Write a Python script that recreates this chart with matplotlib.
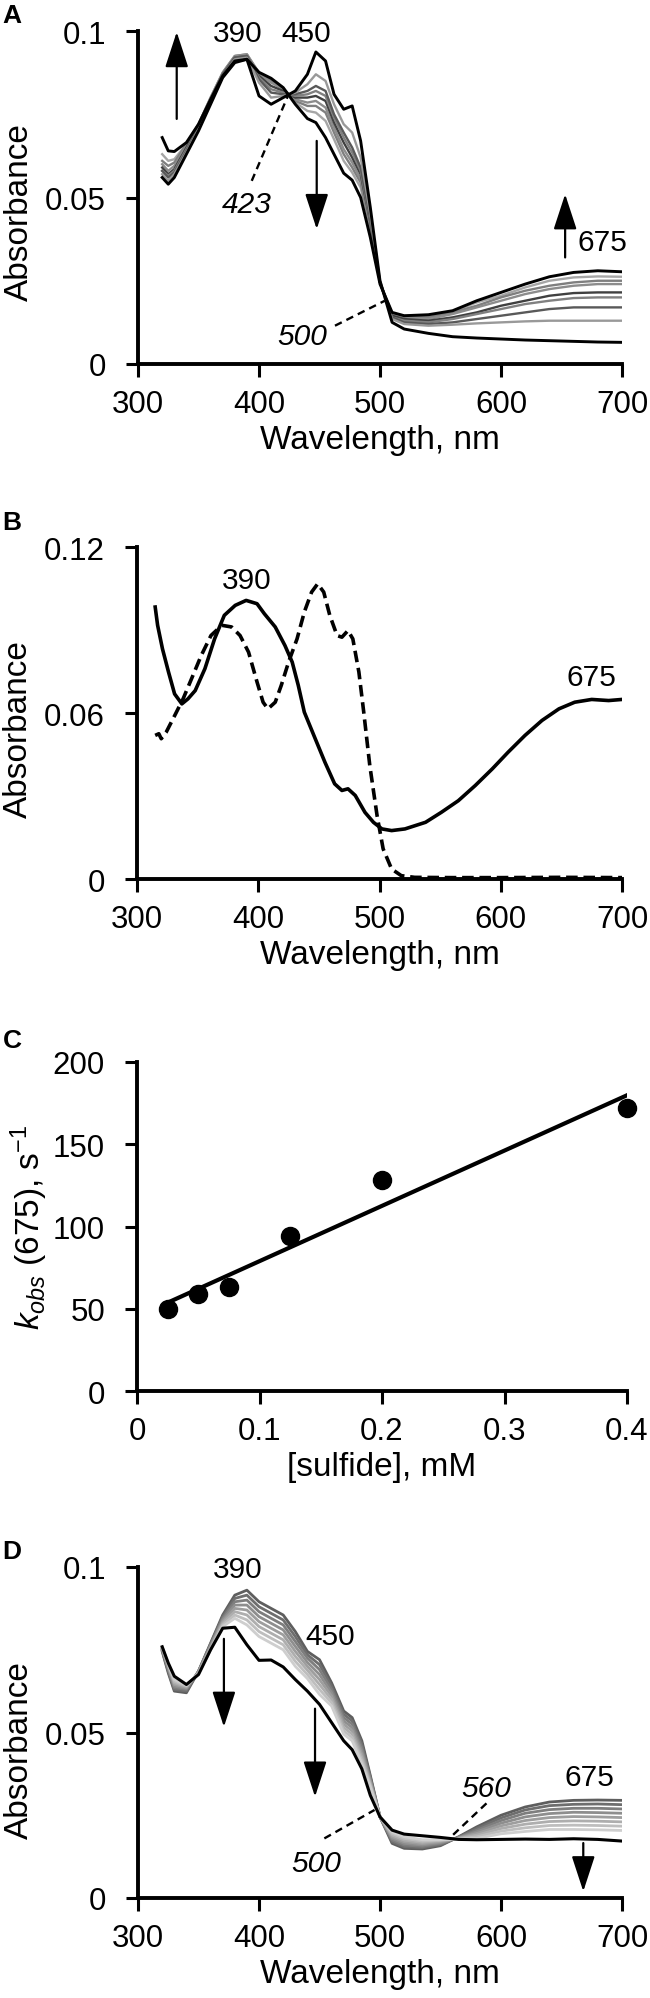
import numpy as np
import matplotlib
matplotlib.use('Agg')
import matplotlib.pyplot as plt

plt.rcParams['font.family'] = 'Liberation Sans'
plt.rcParams['mathtext.fontset'] = 'custom'
plt.rcParams['mathtext.rm'] = 'Liberation Sans'
plt.rcParams['mathtext.it'] = 'Liberation Sans:italic'

# ---- panel A : spectra, absorbance in mAU ----
wl_a = [320, 325, 330, 340, 350, 360, 370, 380, 390, 400, 410, 420, 430, 440, 447, 455, 462,
        470, 477, 484, 492, 500, 510, 520, 540, 560, 580, 600, 620, 640, 660, 680, 700]
a_init = [56, 54, 56, 63, 70, 78, 86, 90.5, 91.5, 80.5, 78, 80, 82, 87, 93.7, 91, 81,
          76.5, 77.5, 67, 47, 25, 12.5, 10.5, 9.2, 8.2, 7.8, 7.5, 7.2, 7.0, 6.8, 6.6, 6.5]
a_g7 = [57, 55, 57, 63.5, 70.5, 78.5, 86.5, 91.5, 92, 84.5, 80, 80.5, 81.5, 84, 87, 85, 78,
        72, 69.5, 62, 45, 25, 13.5, 12, 11.5, 11.8, 12.2, 12.5, 12.8, 13, 13, 13, 13]
a_g6 = [58, 56, 57.5, 64, 71, 79, 87, 92, 92.5, 85.5, 81.5, 81, 81, 82, 83.5, 82, 75,
        69.5, 65, 59, 43.5, 24.5, 14, 12.5, 12, 12.5, 13.5, 14.5, 15.5, 16.5, 17, 17, 17]
a_g5 = [58, 56.5, 58, 64.5, 71, 79, 87, 92, 92.5, 86, 82.5, 81.5, 80.5, 81, 82, 80.5, 74,
        68, 63.5, 58, 43, 24.5, 14, 13, 12.5, 13.5, 15, 16.5, 18, 19, 19.8, 20, 20]
a_g4 = [59, 57, 58.5, 65, 71.5, 79.5, 87, 92, 92.5, 86.5, 83.5, 82, 80, 80, 80.5, 79, 72.5,
        66.5, 62, 57, 42.5, 24.5, 14.5, 13.5, 13, 14, 15.5, 17.5, 19, 20.5, 21.3, 21.5, 21.5]
a_g3 = [60, 58, 59.5, 65.5, 72, 80, 87.5, 92.5, 93, 87, 84.5, 82.5, 79.5, 78.5, 79, 77, 71,
        64.5, 60.5, 55.5, 41.5, 24.5, 14.8, 14, 13.5, 15, 17, 19, 21, 22.5, 23.5, 24, 24]
a_g2 = [61, 59.5, 60.5, 66, 72, 80, 87.5, 92.5, 93, 87.5, 85, 82.5, 79, 77.5, 77.5, 75.5, 69.5,
        63, 59, 54.5, 41, 24.5, 15, 14.2, 14, 15.5, 17.5, 20, 22, 23.5, 24.5, 25, 25]
a_g1 = [63, 61, 61.5, 66, 72, 79.8, 87, 92, 92.5, 87.5, 85.5, 83, 78.5, 76, 75.5, 73, 67.5,
        61, 57.5, 53, 40, 24.5, 15.2, 14.5, 14.5, 15.8, 18.5, 20.5, 23, 25, 26, 26.3, 26.2]
a_final = [68, 64, 63.8, 66.5, 72, 79.4, 86.5, 91, 91.5, 87.6, 85.8, 83, 78, 73.7, 72.5, 68, 63,
           57.3, 55.2, 50, 38, 24, 15.5, 14.5, 14.8, 16, 19, 21.5, 24, 26.2, 27.5, 28, 27.7]
a_grays = [a_g1, a_g2, a_g3, a_g4, a_g5, a_g6, a_g7]
a_gray_colors = ['#a6a6a6', '#7f7f7f', '#8c8c8c', '#404040', '#808080', '#595959', '#999999']

# ---- panel B ----
wl_b_solid = [315, 317, 321, 326, 331, 337, 342, 348, 356, 364, 372, 381, 390, 399, 405, 414, 422,
              428, 433, 438, 447, 455, 463, 469, 474, 480, 488, 495, 502, 510, 521, 538, 551,
              565, 579, 593, 606, 620, 634, 648, 661, 675, 689, 700]
b_solid = [0.0983, 0.0917, 0.0832, 0.0748, 0.0669, 0.0633, 0.0651, 0.0681, 0.0760, 0.0868,
           0.0953, 0.0989, 0.1007, 0.0995, 0.0959, 0.0911, 0.0844, 0.0784, 0.0700, 0.0603,
           0.0507, 0.0422, 0.0344, 0.0320, 0.0326, 0.0302, 0.0241, 0.0205, 0.0181, 0.0175,
           0.0181, 0.0205, 0.0241, 0.0283, 0.0338, 0.0398, 0.0458, 0.0519, 0.0573, 0.0615,
           0.0639, 0.0649, 0.0645, 0.0649]
wl_b_dash = [315, 318, 320, 324, 331, 338, 345, 353, 361, 370, 378, 385, 392, 399, 404, 408, 414,
             419, 425, 432, 438, 444, 449, 454, 459, 465, 469, 474, 478, 483, 487, 492, 498,
             503, 510, 518, 529, 560, 600, 650, 700]
b_dash = [0.0519, 0.0525, 0.0507, 0.0530, 0.0590, 0.0651, 0.0724, 0.0808, 0.0880, 0.0917,
          0.0911, 0.0880, 0.0820, 0.0712, 0.0639, 0.0615, 0.0639, 0.0700, 0.0784, 0.0868,
          0.0965, 0.1037, 0.1067, 0.1037, 0.0953, 0.0880, 0.0874, 0.0898, 0.0868, 0.0748,
          0.0603, 0.0410, 0.0229, 0.0109, 0.0036, 0.0012, 0.0006, 0.0005, 0.0005, 0.0006, 0.0005]

# ---- panel C ----
sulfide = [0.025, 0.05, 0.075, 0.125, 0.2, 0.4]
kobs = [50, 59, 63, 94, 128, 172]

# ---- panel D : spectra, mAU ----
wl_d = [320, 325, 330, 340, 350, 360, 370, 380, 390, 400, 410, 420, 430, 440, 450, 460, 470,
        477, 485, 492, 500, 510, 520, 535, 550, 565, 580, 600, 620, 640, 660, 680, 700]
d_g0 = [74.5, 68, 62.5, 62, 68.5, 77, 85.5, 91.5, 93, 89.5, 87.5, 85.5, 80.5, 74.5, 72, 65, 56.5,
        54.5, 47.5, 37, 24.5, 16.5, 15, 14.8, 15.8, 18.5, 21.5, 25, 27.5, 29, 29.5, 29.6, 29.5]
d_g1 = [74.8, 68.5, 63, 62.5, 68.5, 76.8, 85, 90.5, 91.5, 88, 86, 84, 79, 73.5, 70.5, 64, 55.5,
        53.5, 46.5, 36.5, 24.5, 17, 15.5, 15.2, 16.1, 18.4, 21, 24.2, 26.6, 27.9, 28.3, 28.4, 28.2]
d_g2 = [75, 69, 63.5, 63, 68.5, 76.5, 84.5, 89.5, 90, 86.5, 84.5, 82.5, 77.5, 72.5, 69, 63, 54.5,
        52.5, 45.5, 36, 24.5, 17.5, 16, 15.6, 16.4, 18.3, 20.5, 23.4, 25.6, 26.7, 27.1, 27.1, 26.9]
d_g3 = [75.2, 69.5, 64, 63.3, 68.3, 76.2, 84, 88.5, 88.5, 85, 83, 81, 76, 71.2, 67.5, 62, 53.5,
        51.5, 44.5, 35.5, 24.5, 18, 16.5, 16, 16.7, 18.2, 20, 22.6, 24.5, 25.5, 25.9, 25.8, 25.6]
d_g4 = [75.4, 70, 64.5, 63.6, 68.2, 75.8, 83.5, 87.5, 87, 83.5, 81.5, 79.5, 74.5, 70, 66, 61, 52.5,
        50.5, 43.5, 35, 24.5, 18.5, 17, 16.4, 17, 18.1, 19.5, 21.8, 23.4, 24.3, 24.6, 24.5, 24.3]
d_g5 = [75.6, 70.3, 65, 63.9, 68, 75.5, 83, 86.5, 85.5, 82, 80, 78, 73, 68.8, 64.5, 60, 51.5,
        49.5, 42.5, 34.5, 24.5, 19, 17.5, 16.8, 17.3, 18, 19, 21, 22.3, 23.1, 23.3, 23.2, 23]
d_g6 = [75.7, 70.5, 65.5, 64.1, 67.8, 75.2, 82.5, 85.5, 84, 80.5, 78.5, 76.5, 71.5, 67.5, 63, 59, 50.5,
        48.5, 41.5, 34, 24.5, 19.5, 18, 17.2, 17.5, 17.9, 18.5, 20.2, 21.2, 21.9, 22, 21.9, 21.7]
d_g7 = [75.8, 70.8, 66, 64.3, 67.7, 75, 82, 84.5, 82.5, 79, 77, 75, 70, 66.3, 61.5, 58, 49.5,
        47.5, 40.5, 33.5, 24.5, 20, 18.5, 17.6, 17.6, 17.8, 18, 19.4, 20.1, 20.7, 20.7, 20.6, 20.4]
d_final = [75.9, 71, 67, 64.5, 67.5, 75, 81.5, 81.8, 76.5, 71.8, 71.9, 69.8, 66, 62.5, 58.5, 53, 47.5,
           44.8, 39, 31, 24.5, 20.5, 19.3, 18.8, 18.3, 17.7, 17.6, 17.7, 17.8, 17.7, 17.9, 17.7, 17.2]
d_grays = [d_g0, d_g1, d_g2, d_g3, d_g4, d_g5, d_g6, d_g7]
d_gray_colors = ['#5e5e5e', '#6e6e6e', '#7e7e7e', '#8e8e8e', '#9e9e9e', '#aeaeae', '#bebebe', '#cecece']

wl_ticks = [300, 400, 500, 600, 700]

W, H = 650, 1999
fig = plt.figure(figsize=(W / 100, H / 100), dpi=100)


def add_ax(left, right, top, bottom):
    return fig.add_axes([left / W, 1 - bottom / H, (right - left) / W, (bottom - top) / H])


def style(ax, h):
    for s in ['top', 'right']:
        ax.spines[s].set_visible(False)
    for s in ['left', 'bottom']:
        ax.spines[s].set_linewidth(2.8)
    ax.tick_params(direction='out', length=9, width=2.2, labelsize=22.5)
    ax.tick_params(axis='y', pad=14)
    ax.tick_params(axis='x', pad=9)
    ax.xaxis.set_label_coords(0.5, -60 / h)
    ax.xaxis.label.set_fontsize(24)
    ax.yaxis.label.set_fontsize(24)


def arrow(ax, x, y0, y1):
    ax.annotate('', xy=(x, y1), xytext=(x, y0),
                arrowprops=dict(arrowstyle='-|>,head_length=1.1,head_width=0.36', lw=1.6,
                                color='k', shrinkA=0, shrinkB=0, mutation_scale=20))


def dashed(ax, p0, p1):
    ax.plot([p0[0], p1[0]], [p0[1], p1[1]], color='k', lw=1.7, ls=(0, (3.2, 2.2)))


def spectra_ax(ax, h):
    ax.set_xlim(300, 700)
    ax.set_xticks(wl_ticks)
    ax.set_xticklabels([str(t) for t in wl_ticks])
    ax.set_xlabel('Wavelength, nm')
    ax.set_ylabel('Absorbance')
    style(ax, h)


# ----- A -----
axA = add_ax(138, 622, 32, 365)
for vals, c in zip(a_grays, a_gray_colors):
    axA.plot(wl_a, np.array(vals) / 1000, color=c, lw=1.7)
axA.plot(wl_a, np.array(a_init) / 1000, color='k', lw=2.1)
axA.plot(wl_a, np.array(a_final) / 1000, color='k', lw=2.1)
axA.set_ylim(0, 0.1)
axA.set_yticks([0, 0.05, 0.1])
axA.set_yticklabels(['0', '0.05', '0.1'])
spectra_ax(axA, 333)
axA.yaxis.set_label_coords(-0.213, 0.46)
axA.text(382.6, 0.0993, '390', fontsize=21.5, ha='center', va='center')
axA.text(438.8, 0.0993, '450', fontsize=21.5, ha='center', va='center')
axA.text(684, 0.0366, '675', fontsize=21.5, ha='center', va='center')
axA.text(389.8, 0.048, '423', fontsize=21.5, ha='center', va='center', style='italic')
axA.text(436, 0.0085, '500', fontsize=21.5, ha='center', va='center', style='italic')
dashed(axA, (394, 0.055), (424, 0.0806))
dashed(axA, (462.8, 0.0115), (504, 0.019))
arrow(axA, 332, 0.0736, 0.0997)
arrow(axA, 447.7, 0.067, 0.0405)
arrow(axA, 653, 0.032, 0.051)

# ----- B -----
axB = add_ax(137, 622, 548, 880)
axB.plot(wl_b_solid, b_solid, color='k', lw=2.6)
axB.plot(wl_b_dash, b_dash, color='k', lw=2.6, ls=(0, (3.2, 1.6)))
axB.set_ylim(0, 0.12)
axB.set_yticks([0, 0.06, 0.12])
axB.set_yticklabels(['0', '0.06', '0.12'])
spectra_ax(axB, 332)
axB.yaxis.set_label_coords(-0.213, 0.455)
axB.text(390.4, 0.108, '390', fontsize=21.5, ha='center', va='center')
axB.text(675, 0.073, '675', fontsize=21.5, ha='center', va='center')

# ----- C -----
axC = add_ax(137, 627, 1063, 1392)
slope, icpt = np.polyfit(sulfide, kobs, 1)
xfit = np.array([sulfide[0], sulfide[-1]])
axC.plot(xfit, slope * xfit + icpt, color='k', lw=3.0)
axC.plot(sulfide, kobs, 'o', color='k', ms=13, clip_on=False)
axC.set_xlim(0, 0.4)
axC.set_ylim(0, 200)
axC.set_xticks([0, 0.1, 0.2, 0.3, 0.4])
axC.set_xticklabels(['0', '0.1', '0.2', '0.3', '0.4'])
axC.set_yticks([0, 50, 100, 150, 200])
axC.set_yticklabels(['0', '50', '100', '150', '200'])
axC.set_xlabel('[sulfide], mM')
axC.set_ylabel(r'$k_{obs}$ (675), s$^{\mathrm{-1}}$')
style(axC, 329)
axC.yaxis.set_label_coords(-0.178, 0.5)

# ----- D -----
axD = add_ax(138, 622, 1568, 1899)
for vals, c in zip(d_grays, d_gray_colors):
    axD.plot(wl_d, np.array(vals) / 1000, color=c, lw=2.0)
axD.plot(wl_d, np.array(d_final) / 1000, color='k', lw=2.2)
axD.set_ylim(0, 0.1)
axD.set_yticks([0, 0.05, 0.1])
axD.set_yticklabels(['0', '0.05', '0.1'])
spectra_ax(axD, 331)
axD.yaxis.set_label_coords(-0.213, 0.45)
axD.text(382.6, 0.0994, '390', fontsize=21.5, ha='center', va='center')
axD.text(458.7, 0.0793, '450', fontsize=21.5, ha='center', va='center')
axD.text(673.5, 0.0367, '675', fontsize=21.5, ha='center', va='center')
axD.text(447, 0.0105, '500', fontsize=21.5, ha='center', va='center', style='italic')
axD.text(588, 0.0331, '560', fontsize=21.5, ha='center', va='center', style='italic')
dashed(axD, (454, 0.018), (495.5, 0.0266))
dashed(axD, (588, 0.0286), (559, 0.0186))
arrow(axD, 371, 0.0783, 0.0517)
arrow(axD, 446.3, 0.0572, 0.0306)
arrow(axD, 668, 0.0166, 0.002)

# panel letters
for lab, y in [('A', 16), ('B', 523), ('C', 1041), ('D', 1552)]:
    fig.text(12 / W, 1 - y / H, lab, fontsize=19, fontweight='bold', ha='center', va='center')

fig.savefig('out.png', dpi=100)
